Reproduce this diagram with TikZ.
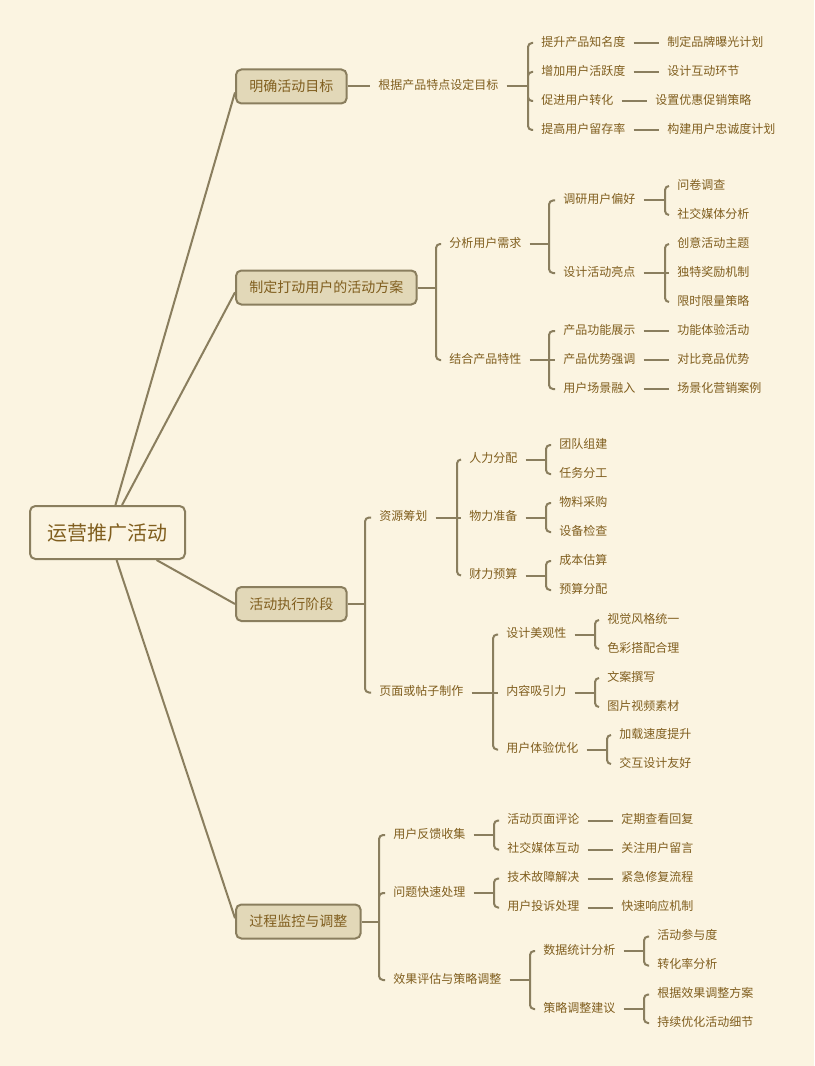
\documentclass[tikz,border=0pt]{standalone}
\usepackage{fontspec}
\setmainfont{Noto Sans CJK SC}
\usetikzlibrary{positioning}
\definecolor{bgcream}{RGB}{251,244,225}
\definecolor{linebrown}{RGB}{138,126,94}
\definecolor{boxfill}{RGB}{226,216,184}
\definecolor{textbrown}{RGB}{128,94,30}

\begin{document}
\begin{tikzpicture}[
    x=0.75pt, y=-0.75pt,
    root/.style={draw=linebrown, line width=1.5pt, rounded corners=4pt, fill=bgcream, text=textbrown, font=\fontsize{15}{18}\selectfont, minimum width=116.25pt, minimum height=39.75pt},
    topic/.style={draw=linebrown, line width=1.5pt, rounded corners=4pt, fill=boxfill, text=textbrown, font=\fontsize{10.5}{12}\selectfont, inner xsep=10pt, minimum height=25.5pt, anchor=west},
    leaf/.style={text=textbrown, font=\fontsize{9}{11}\selectfont, inner xsep=6pt, inner ysep=1pt, text height=0.8em, text depth=0.3em, anchor=west},
    link/.style={draw=linebrown, line width=1.5pt},
    fork/.style={link, rounded corners=3pt}
]
\fill[bgcream] (0,0) rectangle (814,1066);
\useasboundingbox (0,0) rectangle (814,1066);

% root and main topics
\node[root] (root) at (107.5,532.5) {运营推广活动};
\node[topic] (goal) at (235,86.5) {明确活动目标};
\node[topic] (plan) at (235,287.5) {制定打动用户的活动方案};
\node[topic] (exec) at (235,604) {活动执行阶段};
\node[topic] (monitor) at (235,921.5) {过程监控与调整};

\draw[link] (root) -- (goal.186);
\draw[link] (root) -- (plan.183);
\draw[link] (root) -- (exec.west);
\draw[link] (root) -- (monitor.177);

% goals
\node[leaf] (setgoal) at (370,86.5) {根据产品特点设定目标};
\node[leaf] (aware) at (533,43) {提升产品知名度};
\node[leaf] (active) at (533,72) {增加用户活跃度};
\node[leaf] (convert) at (533,101) {促进用户转化};
\node[leaf] (retain) at (533,130) {提高用户留存率};
\node[leaf] (brand) at (659,43) {制定品牌曝光计划};
\node[leaf] (interact) at (659,72) {设计互动环节};
\node[leaf] (promo) at (647,101) {设置优惠促销策略};
\node[leaf] (loyalty) at (659,130) {构建用户忠诚度计划};
\coordinate (goalfork) at (528,86.5);

\draw[link] (goal.east) -- (setgoal.west);
\draw[link] (setgoal.east) -- (goalfork);
\draw[fork] (goalfork) |- (aware.west) (goalfork) |- (active.west) (goalfork) |- (convert.west) (goalfork) |- (retain.west);
\draw[link] (aware) -- (brand);
\draw[link] (active) -- (interact);
\draw[link] (convert) -- (promo);
\draw[link] (retain) -- (loyalty);

% plan
\node[leaf] (needs) at (441,244) {分析用户需求};
\node[leaf] (feature) at (441,360) {结合产品特性};
\node[leaf] (survey) at (555,200.5) {调研用户偏好};
\node[leaf] (highlight) at (555,273) {设计活动亮点};
\node[leaf] (questionnaire) at (669,186) {问卷调查};
\node[leaf] (social) at (669,215) {社交媒体分析};
\node[leaf] (theme) at (669,244) {创意活动主题};
\node[leaf] (reward) at (669,273) {独特奖励机制};
\node[leaf] (limited) at (669,302) {限时限量策略};
\node[leaf] (func) at (555,331) {产品功能展示};
\node[leaf] (advantage) at (555,360) {产品优势强调};
\node[leaf] (scene) at (555,389) {用户场景融入};
\node[leaf] (trial) at (669,331) {功能体验活动};
\node[leaf] (compare) at (669,360) {对比竞品优势};
\node[leaf] (casestudy) at (669,389) {场景化营销案例};
\coordinate (planfork) at (436,287.5);
\coordinate (needsfork) at (549,244);
\coordinate (surveyfork) at (665,200.5);
\coordinate (highlightfork) at (665,273);
\coordinate (featurefork) at (549,360);

\draw[link] (plan.east) -- (planfork);
\draw[fork] (planfork) |- (needs.west) (planfork) |- (feature.west);
\draw[link] (needs.east) -- (needsfork);
\draw[fork] (needsfork) |- (survey.west) (needsfork) |- (highlight.west);
\draw[link] (survey.east) -- (surveyfork);
\draw[fork] (surveyfork) |- (questionnaire.west) (surveyfork) |- (social.west);
\draw[link] (highlight.east) -- (highlightfork) -- (reward.west);
\draw[fork] (highlightfork) |- (theme.west) (highlightfork) |- (limited.west);
\draw[link] (feature.east) -- (featurefork) -- (advantage.west);
\draw[fork] (featurefork) |- (func.west) (featurefork) |- (scene.west);
\draw[link] (func) -- (trial);
\draw[link] (advantage) -- (compare);
\draw[link] (scene) -- (casestudy);

% execution
\node[leaf] (resource) at (371,517.5) {资源筹划};
\node[leaf] (page) at (371,692.5) {页面或帖子制作};
\node[leaf] (people) at (461,459.5) {人力分配};
\node[leaf] (material) at (461,517.5) {物力准备};
\node[leaf] (budget) at (461,575.5) {财力预算};
\node[leaf] (team) at (551,445) {团队组建};
\node[leaf] (task) at (551,474) {任务分工};
\node[leaf] (purchase) at (551,503) {物料采购};
\node[leaf] (check) at (551,532) {设备检查};
\node[leaf] (cost) at (551,561) {成本估算};
\node[leaf] (alloc) at (551,590) {预算分配};
\node[leaf] (design) at (498,634.5) {设计美观性};
\node[leaf] (content) at (498,692.5) {内容吸引力};
\node[leaf] (ux) at (498,749.5) {用户体验优化};
\node[leaf] (visual) at (599,620) {视觉风格统一};
\node[leaf] (color) at (599,649) {色彩搭配合理};
\node[leaf] (copy) at (599,678) {文案撰写};
\node[leaf] (media) at (599,707) {图片视频素材};
\node[leaf] (speed) at (611,735) {加载速度提升};
\node[leaf] (interaction) at (611,764) {交互设计友好};
\coordinate (execfork) at (365,604);
\coordinate (resourcefork) at (457,517.5);
\coordinate (peoplefork) at (546,459.5);
\coordinate (materialfork) at (546,517.5);
\coordinate (budgetfork) at (546,575.5);
\coordinate (pagefork) at (493,692.5);
\coordinate (designfork) at (595,634.5);
\coordinate (contentfork) at (595,692.5);
\coordinate (uxfork) at (607,749.5);

\draw[link] (exec.east) -- (execfork);
\draw[fork] (execfork) |- (resource.west) (execfork) |- (page.west);
\draw[link] (resource.east) -- (resourcefork) -- (material.west);
\draw[fork] (resourcefork) |- (people.west) (resourcefork) |- (budget.west);
\draw[link] (people.east) -- (peoplefork);
\draw[fork] (peoplefork) |- (team.west) (peoplefork) |- (task.west);
\draw[link] (material.east) -- (materialfork);
\draw[fork] (materialfork) |- (purchase.west) (materialfork) |- (check.west);
\draw[link] (budget.east) -- (budgetfork);
\draw[fork] (budgetfork) |- (cost.west) (budgetfork) |- (alloc.west);
\draw[link] (page.east) -- (pagefork) -- (content.west);
\draw[fork] (pagefork) |- (design.west) (pagefork) |- (ux.west);
\draw[link] (design.east) -- (designfork);
\draw[fork] (designfork) |- (visual.west) (designfork) |- (color.west);
\draw[link] (content.east) -- (contentfork);
\draw[fork] (contentfork) |- (copy.west) (contentfork) |- (media.west);
\draw[link] (ux.east) -- (uxfork);
\draw[fork] (uxfork) |- (speed.west) (uxfork) |- (interaction.west);

% monitoring
\node[leaf] (feedback) at (385,835) {用户反馈收集};
\node[leaf] (issue) at (385,893) {问题快速处理};
\node[leaf] (review) at (385,980) {效果评估与策略调整};
\node[leaf] (comment) at (499,820.5) {活动页面评论};
\node[leaf] (socialint) at (499,849.5) {社交媒体互动};
\node[leaf] (replies) at (613,820.5) {定期查看回复};
\node[leaf] (notes) at (613,849.5) {关注用户留言};
\node[leaf] (techfix) at (499,878.5) {技术故障解决};
\node[leaf] (complaint) at (499,907.5) {用户投诉处理};
\node[leaf] (repair) at (613,878.5) {紧急修复流程};
\node[leaf] (response) at (613,907.5) {快速响应机制};
\node[leaf] (datastat) at (535,951) {数据统计分析};
\node[leaf] (adjust) at (535,1009) {策略调整建议};
\node[leaf] (participation) at (649,936.5) {活动参与度};
\node[leaf] (convrate) at (649,965.5) {转化率分析};
\node[leaf] (tune) at (649,994.5) {根据效果调整方案};
\node[leaf] (refine) at (649,1023) {持续优化活动细节};
\coordinate (monitorfork) at (379,921.5);
\coordinate (feedbackfork) at (494,835);
\coordinate (issuefork) at (494,893);
\coordinate (reviewfork) at (530,980);
\coordinate (datafork) at (644,951);
\coordinate (adjustfork) at (644,1009);

\draw[link] (monitor.east) -- (monitorfork);
\draw[fork] (monitorfork) |- (feedback.west) (monitorfork) |- (issue.west) (monitorfork) |- (review.west);
\draw[link] (feedback.east) -- (feedbackfork);
\draw[fork] (feedbackfork) |- (comment.west) (feedbackfork) |- (socialint.west);
\draw[link] (comment) -- (replies);
\draw[link] (socialint) -- (notes);
\draw[link] (issue.east) -- (issuefork);
\draw[fork] (issuefork) |- (techfix.west) (issuefork) |- (complaint.west);
\draw[link] (techfix) -- (repair);
\draw[link] (complaint) -- (response);
\draw[link] (review.east) -- (reviewfork);
\draw[fork] (reviewfork) |- (datastat.west) (reviewfork) |- (adjust.west);
\draw[link] (datastat.east) -- (datafork);
\draw[fork] (datafork) |- (participation.west) (datafork) |- (convrate.west);
\draw[link] (adjust.east) -- (adjustfork);
\draw[fork] (adjustfork) |- (tune.west) (adjustfork) |- (refine.west);
\end{tikzpicture}
\end{document}
